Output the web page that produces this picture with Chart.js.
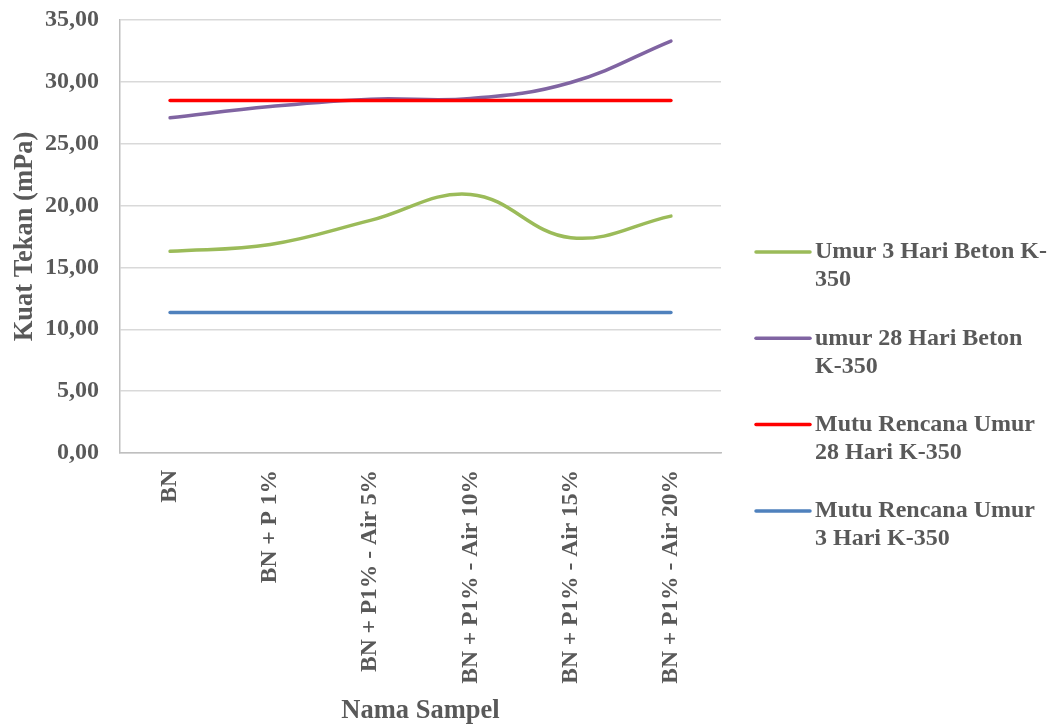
<!DOCTYPE html>
<html>
<head>
<meta charset="utf-8">
<script src="https://cdn.jsdelivr.net/npm/chart.js@4/dist/chart.umd.min.js"></script>
<style>
  html, body { margin: 0; padding: 0; background: #ffffff; }
  #wrap { width: 1051px; height: 724px; position: relative; }
</style>
</head>
<body>
<div id="wrap"><canvas id="c"></canvas></div>
<script>
// Sample names along the x axis
const categories = ['BN', 'BN + P 1%', 'BN + P1% - Air 5%', 'BN + P1% - Air 10%', 'BN + P1% - Air 15%', 'BN + P1% - Air 20%'];

// Compressive strength (mPa)
const umur3 = [16.30, 16.85, 18.80, 20.90, 17.40, 19.15];
const umur28 = [27.10, 28.00, 28.60, 28.65, 29.95, 33.30];
const rencana28 = [28.50, 28.50, 28.50, 28.50, 28.50, 28.50];
const rencana3 = [11.35, 11.35, 11.35, 11.35, 11.35, 11.35];

// Legend labels, split into the lines they are shown on
const label3 = ['Umur 3 Hari Beton K-', '350'];
const label28 = ['umur 28 Hari Beton', 'K-350'];
const labelR28 = ['Mutu Rencana Umur', '28 Hari K-350'];
const labelR3 = ['Mutu Rencana Umur', '3 Hari K-350'];

const yTicks = [0, 5, 10, 15, 20, 25, 30, 35];

const FONT = "'Liberation Serif', 'Times New Roman', serif";
const TXT = '#595959';

function series(lines, data, color, order) {
  return {
    label: lines.join(''),
    legendLines: lines,
    data: data,
    borderColor: color,
    backgroundColor: color,
    borderWidth: 3.5,
    borderCapStyle: 'round',
    borderJoinStyle: 'round',
    pointRadius: 0,
    pointHoverRadius: 0,
    tension: 0.4,
    fill: false,
    order: order
  };
}

// Legend drawn on the right, with two-line entries
const sideLegend = {
  id: 'sideLegend',
  afterDraw(chart) {
    const ctx = chart.ctx;
    const x0 = 756, x1 = 810, tx = 815;
    const top = 252, step = 86.3, lh = 28;
    ctx.save();
    ctx.font = 'bold 24px ' + FONT;
    ctx.textBaseline = 'middle';
    ctx.textAlign = 'left';
    chart.data.datasets.forEach((ds, i) => {
      const y = top + i * step;
      ctx.strokeStyle = ds.borderColor;
      ctx.lineWidth = 3.5;
      ctx.lineCap = 'round';
      ctx.beginPath();
      ctx.moveTo(x0, y);
      ctx.lineTo(x1, y);
      ctx.stroke();
      ctx.fillStyle = TXT;
      ds.legendLines.forEach((ln, j) => ctx.fillText(ln, tx, y + j * lh));
    });
    ctx.restore();
  }
};

new Chart(document.getElementById('c'), {
  type: 'line',
  data: {
    labels: categories,
    datasets: [
      series(label3, umur3, '#9BBB59', 4),
      series(label28, umur28, '#8064A2', 3),
      series(labelR28, rencana28, '#FF0000', 1),
      series(labelR3, rencana3, '#4F81BD', 2)
    ]
  },
  options: {
    responsive: true,
    maintainAspectRatio: false,
    animation: false,
    layout: { padding: { left: 0, right: 330, top: 20, bottom: 0 } },
    plugins: {
      legend: { display: false },
      tooltip: { enabled: false }
    },
    scales: {
      x: {
        offset: true,
        grid: { display: false },
        border: { display: true, color: '#BFBFBF', width: 1.5 },
        ticks: {
          color: TXT,
          font: { family: FONT, size: 23.5, weight: 'bold' },
          minRotation: 90,
          maxRotation: 90,
          padding: 9,
          autoSkip: false
        },
        title: {
          display: true,
          text: 'Nama Sampel',
          color: TXT,
          font: { family: FONT, size: 26.5, weight: 'bold', lineHeight: 1 },
          padding: { top: 0, bottom: 0 }
        },
        afterFit(scale) {
          scale.height = 271;
          scale.paddingLeft = 0;
          scale.paddingRight = 0;
        }
      },
      y: {
        min: 0,
        max: 35,
        afterBuildTicks(scale) { scale.ticks = yTicks.map(v => ({ value: v })); },
        grid: { color: '#D9D9D9', lineWidth: 1.5, drawTicks: false },
        border: { display: true, color: '#BFBFBF', width: 1.5 },
        ticks: {
          color: TXT,
          font: { family: FONT, size: 24, weight: 'bold' },
          padding: 21,
          callback: v => v.toFixed(2).replace('.', ',')
        },
        title: {
          display: true,
          text: 'Kuat Tekan (mPa)',
          color: TXT,
          font: { family: FONT, size: 26.5, weight: 'bold' },
          padding: { top: 9, bottom: 0 }
        },
        afterFit(scale) {
          scale.width = 120;
          scale.paddingTop = 0;
          scale.paddingBottom = 0;
        }
      }
    }
  },
  plugins: [sideLegend]
});
</script>
</body>
</html>
